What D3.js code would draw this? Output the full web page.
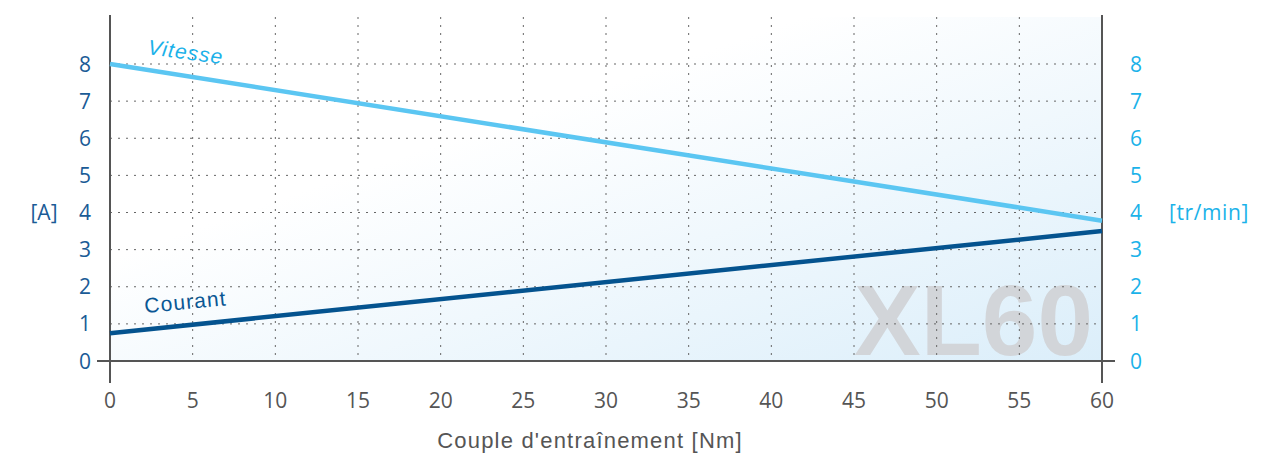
<!DOCTYPE html>
<html><head><meta charset="utf-8">
<script src="https://cdn.jsdelivr.net/npm/d3@7"></script>
<style>body{margin:0;background:#fff}svg{display:block}text{font-family:"Open Sans","Noto Sans",sans-serif}.h{font-family:"Liberation Sans",Arial,sans-serif}</style>
</head><body><svg id="c" width="1281" height="453"></svg>
<script>
const xTicks = [0,5,10,15,20,25,30,35,40,45,50,55,60];
const yTicks = [0,1,2,3,4,5,6,7,8];
const torque = [0, 60];
const vitesse = [8, 3.78];
const courant = [0.75, 3.5];

const svg = d3.select("#c");
const x = d3.scaleLinear().domain([0,60]).range([110,1102]);
const y = d3.scaleLinear().domain([0,8]).range([361,64]);
const yTop = 17;

const defs = svg.append("defs");
const g = defs.append("linearGradient").attr("id","bg").attr("x1","0").attr("y1","0").attr("x2","1").attr("y2","1");
g.append("stop").attr("offset","0.35").attr("stop-color","#ffffff");
g.append("stop").attr("offset","1").attr("stop-color","#dbeefa");
svg.append("rect").attr("x",x(0)).attr("y",yTop).attr("width",x(60)-x(0)).attr("height",y(0)-yTop).attr("fill","url(#bg)");

// watermark
svg.append("text").attr("class","h").attr("x",1093).attr("y",355).attr("text-anchor","end")
  .attr("font-size",100).attr("font-weight","bold").attr("fill","#d2d5d9").text("XL60");

// grid
svg.append("g").selectAll("line").data(yTicks.filter(d=>d>0)).join("line")
  .attr("x1",x(0)).attr("x2",x(60)).attr("y1",d=>y(d)).attr("y2",d=>y(d))
  .attr("stroke","#666").attr("stroke-width",1).attr("stroke-dasharray","2,6");
svg.append("g").selectAll("line").data(xTicks.filter(d=>d>0&&d<60)).join("line")
  .attr("x1",d=>x(d)).attr("x2",d=>x(d)).attr("y1",yTop).attr("y2",y(0))
  .attr("stroke","#666").attr("stroke-width",1).attr("stroke-dasharray","2,6");

// axes lines
svg.append("line").attr("x1",x(0)).attr("x2",x(0)).attr("y1",15).attr("y2",383).attr("stroke","#555").attr("stroke-width",2);
svg.append("line").attr("x1",x(60)).attr("x2",x(60)).attr("y1",15).attr("y2",383).attr("stroke","#555").attr("stroke-width",2);
svg.append("line").attr("x1",97).attr("x2",1115).attr("y1",y(0)).attr("y2",y(0)).attr("stroke","#555").attr("stroke-width",2);

// lines
const line = d3.line().x((d,i)=>x(torque[i])).y(d=>y(d));
svg.append("path").datum(vitesse).attr("d",line).attr("fill","none").attr("stroke","#5bc6f2").attr("stroke-width",4.5);
svg.append("path").datum(courant).attr("d",line).attr("fill","none").attr("stroke","#04538f").attr("stroke-width",4.5);

// labels on lines
svg.append("text").attr("class","h").attr("transform","translate(147,54) rotate(7.8)").attr("font-size",21).attr("letter-spacing",1.1).attr("fill","#1bb1e9").attr("font-style","italic").text("Vitesse");
svg.append("text").attr("class","h").attr("transform","translate(145,313) rotate(-5.4)").attr("font-size",21).attr("letter-spacing",1.1).attr("fill","#0a5794").text("Courant");

// y tick labels
svg.append("g").selectAll("text").data(yTicks).join("text")
  .attr("x",85).attr("y",d=>y(d)).attr("dy","0.36em").attr("text-anchor","middle")
  .attr("font-size",21).attr("fill","#1a5b96").text(d=>d);
svg.append("g").selectAll("text").data(yTicks).join("text")
  .attr("x",1136).attr("y",d=>y(d)).attr("dy","0.36em").attr("text-anchor","middle")
  .attr("font-size",21).attr("fill","#1ab2e9").text(d=>d);
svg.append("text").attr("x",44).attr("y",y(4)).attr("dy","0.36em").attr("text-anchor","middle").attr("font-size",21).attr("fill","#1a5b96").text("[A]");
svg.append("text").attr("x",1209).attr("y",y(4)).attr("dy","0.36em").attr("text-anchor","middle").attr("font-size",21).attr("letter-spacing",0.6).attr("fill","#1ab2e9").text("[tr/min]");

// x ticks
svg.append("g").selectAll("text").data(xTicks).join("text")
  .attr("x",d=>x(d)).attr("y",400).attr("dy","0.36em").attr("text-anchor","middle")
  .attr("font-size",21).attr("fill","#555").text(d=>d);
svg.append("text").attr("class","h").attr("x",590).attr("y",440).attr("dy","0.36em").attr("text-anchor","middle")
  .attr("font-size",22).attr("letter-spacing",1.2).attr("fill","#555").text("Couple d'entraînement [Nm]");
</script></body></html>
